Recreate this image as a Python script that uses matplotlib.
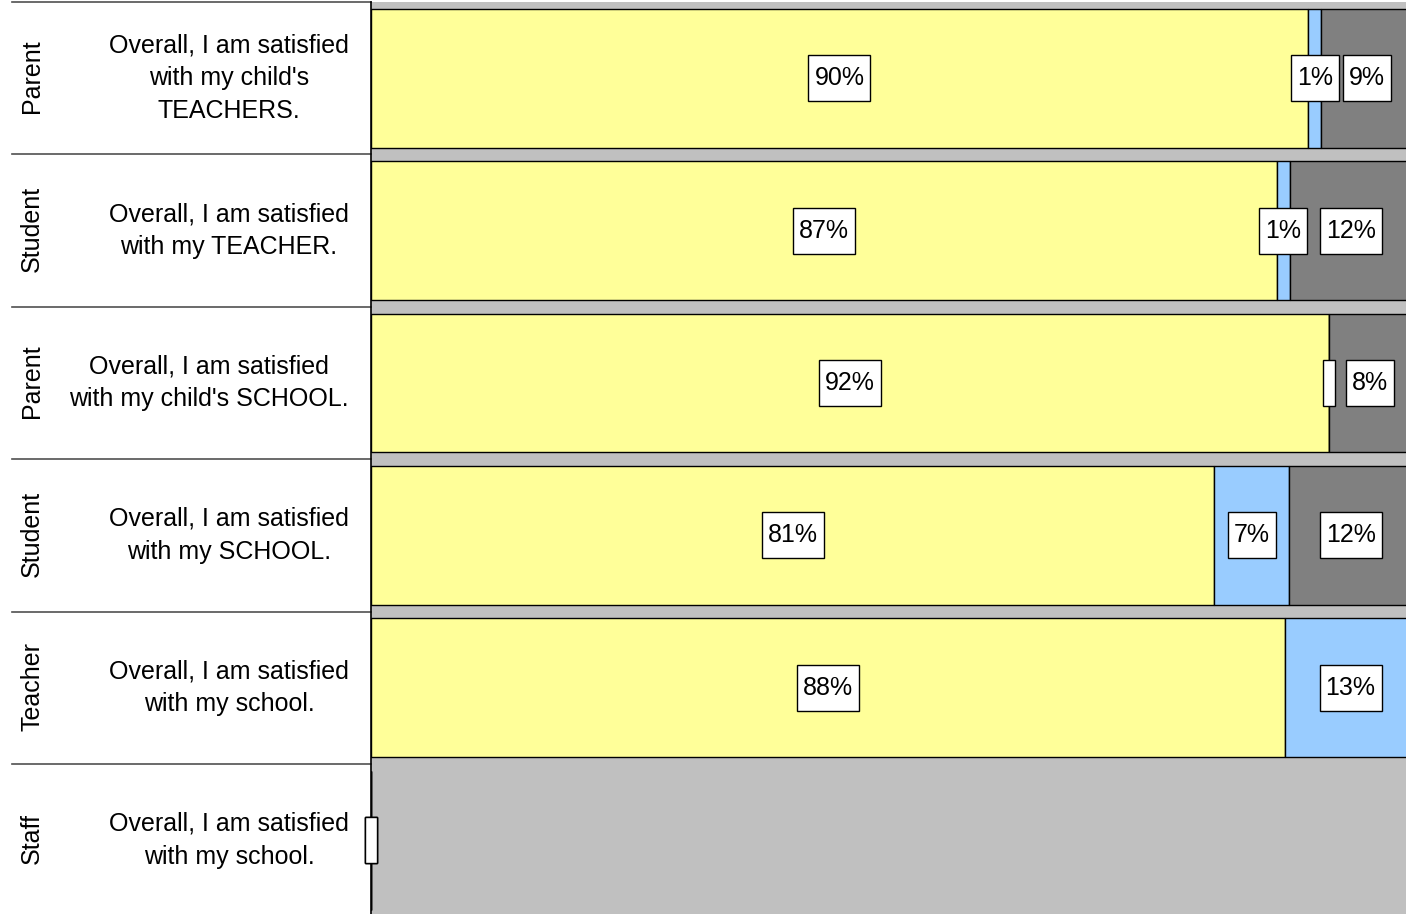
import matplotlib
matplotlib.use("Agg")
import matplotlib.pyplot as plt
from matplotlib.lines import Line2D
from matplotlib.patches import Rectangle
from matplotlib.transforms import blended_transform_factory, IdentityTransform

plt.rcParams["font.family"] = ["Liberation Sans", "DejaVu Sans"]

# ---------------------------------------------------------------------------
# data (percent of respondents)
# ---------------------------------------------------------------------------
groups = ["Parent", "Student", "Parent", "Student", "Teacher", "Staff"]
questions = [
    "Overall, I am satisfied\nwith my child's\nTEACHERS.",
    "Overall, I am satisfied\nwith my TEACHER.",
    "Overall, I am satisfied\nwith my child's SCHOOL.",
    "Overall, I am satisfied\nwith my SCHOOL.",
    "Overall, I am satisfied\nwith my school.",
    "Overall, I am satisfied\nwith my school.",
]
agree = [90.0, 87.0, 92.0, 81.0, 87.8, 0]
neutral = [1.3, 1.3, 0, 7.2, 12.6, 0]
disagree = [8.7, 11.7, 8.0, 11.8, 0, 0]

colors = ["#ffff99", "#99ccff", "#808080"]
BG = "#c0c0c0"
FS = 18

W, H = 1406, 914
fig = plt.figure(figsize=(W / 100, H / 100), dpi=100)

# plot area: 0..100% maps to x=371..1412 px (right edge is cut off)
top_px, row_px = 2.0, 152.4
n = len(groups)
x0, x1 = 371, 1412
ax = fig.add_axes([x0 / W, (H - top_px - n * row_px) / H,
                   (x1 - x0) / W, n * row_px / H])
ax.set_facecolor(BG)
ax.set_xlim(0, 100)
ax.set_ylim(n - 0.5, -0.5)
ax.set_xticks([])
ax.set_yticks([])
for side in ("top", "right", "bottom"):
    ax.spines[side].set_visible(False)
ax.spines["left"].set_linewidth(1.2)

ypos = list(range(n))
left = [0] * n
labels = []  # (x, y, text)
for series, col in zip([agree, neutral, disagree], colors):
    ax.barh(ypos, series, left=left, height=0.91, color=col,
            edgecolor="black", linewidth=1.0)
    for i, (v, l) in enumerate(zip(series, left)):
        labels.append((l + v / 2, i, f"{v:.0f}%" if v > 0 else ""))
    left = [a + b for a, b in zip(left, series)]

# left-hand table with group and question labels
tr = blended_transform_factory(fig.transFigure, ax.transData)
for i in range(n):
    ax.text(32 / W, i - 0.01, groups[i], rotation=90, ha="center",
            va="center", fontsize=FS, transform=tr)
    ax.text(349 / W, i, questions[i], ha="right", va="center",
            multialignment="center", fontsize=FS, linespacing=1.47,
            transform=tr)
for k in range(n):
    ax.add_line(Line2D([12 / W, x0 / W], [k - 0.5, k - 0.5], transform=tr,
                       color="#505050", lw=1.2, clip_on=False))

# value labels in white boxes (fixed box height, width = text + padding)
fig.canvas.draw()
renderer = fig.canvas.get_renderer()
for x, y, txt in labels:
    cx, cy = ax.transData.transform((x, y))
    if txt:
        t = ax.text(x, y, txt, ha="center", va="center", fontsize=FS,
                    zorder=6, clip_on=False)
        w = t.get_window_extent(renderer).width + 12
    else:
        w = 12
    ax.add_patch(Rectangle((cx - w / 2, cy - 23), w, 46,
                           transform=IdentityTransform(), fc="white",
                           ec="black", lw=1.0, zorder=5, clip_on=False))

fig.savefig("out.png", dpi=100)
